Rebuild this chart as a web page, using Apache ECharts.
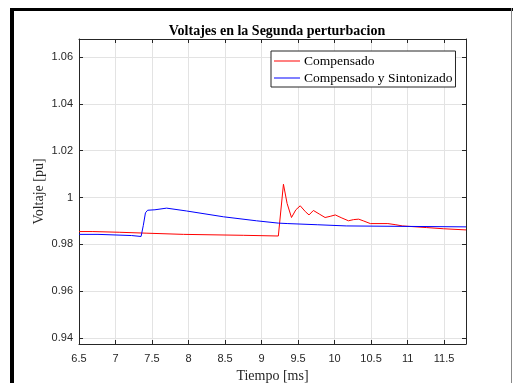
<!DOCTYPE html>
<html><head><meta charset="utf-8">
<script src="https://cdn.jsdelivr.net/npm/echarts@6/dist/echarts.min.js"></script>
<style>html,body{margin:0;padding:0;background:#fff}#c{width:514px;height:383px}</style>
</head><body><div id="c"></div>
<script>
const titleText = 'Voltajes en la Segunda perturbacion';
const seriesNames = ['Compensado', 'Compensado y Sintonizado'];
const xTicks = [6.5, 7, 7.5, 8, 8.5, 9, 9.5, 10, 10.5, 11, 11.5];
const yTicks = [0.94, 0.96, 0.98, 1.0, 1.02, 1.04, 1.06];

const compTime = [6.5, 6.69, 6.70, 7.05, 7.06, 7.43, 7.44, 7.93, 7.94, 8.75, 8.76, 9.23, 9.30, 9.35, 9.41, 9.47, 9.53, 9.60, 9.65, 9.71, 9.79, 9.87, 9.94, 10.01, 10.10, 10.19, 10.26, 10.33, 10.40, 10.49, 10.73, 10.74, 10.84, 10.85, 10.93, 10.94, 11.26, 11.27, 11.49, 11.50, 11.8];
const compVolt = [0.9855, 0.9855, 0.9852, 0.9852, 0.9848, 0.9848, 0.9843, 0.9843, 0.9839, 0.9839, 0.9836, 0.9836, 1.0057, 0.9975, 0.9915, 0.9948, 0.9965, 0.9940, 0.9926, 0.9945, 0.9930, 0.9915, 0.9920, 0.9926, 0.9913, 0.9901, 0.9906, 0.9908, 0.9900, 0.9889, 0.9889, 0.9884, 0.9884, 0.9879, 0.9879, 0.9872, 0.9872, 0.9867, 0.9867, 0.9862, 0.9862];

const sintTime = [6.5, 6.76, 6.77, 7.22, 7.23, 7.35, 7.38, 7.41, 7.44, 7.54, 7.70, 7.97, 8.48, 8.93, 9.23, 9.36, 9.37, 9.77, 9.78, 10.16, 10.17, 11.8];
const sintVolt = [0.9843, 0.9843, 0.9838, 0.9838, 0.9834, 0.9834, 0.9880, 0.9935, 0.9946, 0.9948, 0.9955, 0.9943, 0.9918, 0.9901, 0.9891, 0.9889, 0.9885, 0.9884, 0.9880, 0.9879, 0.9875, 0.9875];

const pairs = (xs, ys) => xs.map((x, i) => [x, ys[i]]);
const axisCol = '#262626';
const gridCol = '#e3e3e3';
const sans = 'Liberation Sans';
const serif = 'Liberation Serif';
const X_MIN = 6.5, X_MAX = 11.8, Y_MIN = 0.9375, Y_MAX = 1.0677;

const chart = echarts.init(document.getElementById('c'), null, {renderer: 'canvas'});
const tickStyle = {show: true, inside: true, length: 4, lineStyle: {color: axisCol}};
chart.setOption({
  animation: false,
  backgroundColor: '#fff',
  title: {text: titleText, left: 272, textAlign: 'center', top: 19,
    textStyle: {fontFamily: serif, fontWeight: 'bold', fontSize: 14, color: '#000'}},
  grid: {left: 79, right: 48, top: 39, bottom: 39, containLabel: false, outerBoundsMode: 'none'},
  legend: {
    left: 271, top: 51, orient: 'vertical', itemWidth: 26, itemHeight: 1, itemGap: 3,
    icon: 'rect', padding: [3, 3, 2, 3], borderColor: axisCol, borderWidth: 1, backgroundColor: '#fff',
    textStyle: {fontFamily: serif, fontSize: 13.5, color: '#000', padding: [0, 0, 0, -1]},
    data: seriesNames
  },
  xAxis: [{
    type: 'value', min: X_MIN, max: X_MAX, interval: 0.5,
    name: 'Tiempo [ms]', nameLocation: 'middle', nameGap: 25, nameMoveOverlap: false,
    nameTextStyle: {fontFamily: serif, fontSize: 14, color: axisCol},
    axisLine: {show: true, lineStyle: {color: axisCol}},
    axisTick: Object.assign({customValues: xTicks}, tickStyle),
    axisLabel: {customValues: xTicks, margin: 9, fontFamily: sans, fontSize: 11, color: axisCol,
      formatter: v => String(v)},
    splitLine: {show: true, lineStyle: {color: gridCol}}
  }, {
    type: 'value', position: 'top', min: X_MIN, max: X_MAX,
    axisLine: {show: true, lineStyle: {color: axisCol}},
    axisTick: Object.assign({customValues: xTicks}, tickStyle), axisLabel: {show: false}, splitLine: {show: false}
  }],
  yAxis: [{
    type: 'value', min: Y_MIN, max: Y_MAX,
    name: 'Voltaje [pu]', nameLocation: 'middle', nameGap: 33, nameMoveOverlap: false,
    nameTextStyle: {fontFamily: serif, fontSize: 14, color: axisCol},
    axisLine: {show: true, lineStyle: {color: axisCol}},
    axisTick: Object.assign({customValues: yTicks}, tickStyle),
    axisLabel: {customValues: yTicks, margin: 6, fontFamily: sans, fontSize: 11, color: axisCol,
      formatter: v => String(Math.round(v * 100) / 100)},
    splitLine: {show: true, lineStyle: {color: gridCol}}
  }, {
    type: 'value', position: 'right', min: Y_MIN, max: Y_MAX,
    axisLine: {show: true, lineStyle: {color: axisCol}},
    axisTick: Object.assign({customValues: yTicks}, tickStyle),
    axisLabel: {show: false}, splitLine: {show: false}
  }],
  series: [{
    name: seriesNames[0], type: 'line', showSymbol: false, symbol: 'none',
    lineStyle: {color: '#ff0000', width: 1}, itemStyle: {color: '#ff0000'},
    data: pairs(compTime, compVolt)
  }, {
    name: seriesNames[1], type: 'line', showSymbol: false, symbol: 'none',
    lineStyle: {color: '#0000ff', width: 1}, itemStyle: {color: '#0000ff'},
    data: pairs(sintTime, sintVolt)
  }],
  graphic: [
    {type: 'rect', shape: {x: 10, y: 8, width: 4, height: 375}, style: {fill: '#000'}, silent: true},
    {type: 'rect', shape: {x: 10, y: 8, width: 503, height: 3}, style: {fill: '#000'}, silent: true},
    {type: 'rect', shape: {x: 511, y: 8, width: 1, height: 375}, style: {fill: '#888'}, silent: true}
  ]
});
</script></body></html>
